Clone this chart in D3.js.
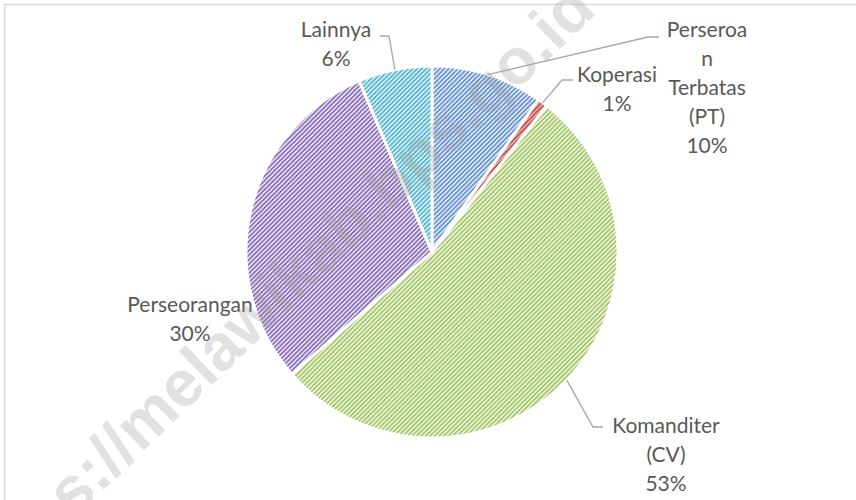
<!DOCTYPE html>
<html>
<head>
<meta charset="utf-8">
<script src="https://cdn.jsdelivr.net/npm/d3@7"></script>
<style>
  body { margin: 0; background: #fff; }
  svg { display: block; }
</style>
</head>
<body>
<div id="pie_dataviz"></div>
<script>
// data (percent share, clockwise from 12 o'clock)
var categories = ["Perseroan Terbatas (PT)", "Koperasi", "Komanditer (CV)", "Perseorangan", "Lainnya"];
var shares = [9.7, 0.9, 53.0, 30.0, 6.4];
// how each label is broken into lines
var labelLines = [
  ["Perseroa", "n", "Terbatas", "(PT)"],
  ["Koperasi"],
  ["Komanditer", "(CV)"],
  ["Perseorangan"],
  ["Lainnya"]
];

// colours: stripe colour and background tint per slice
var stripeColors = ["#5f8fcf", "#c0504d", "#a0c55f", "#876bb5", "#4fb3cc"];
var tintColors   = ["#dbe5f3", "#e9a9a7", "#ebf2dd", "#e2dbee", "#d5edf3"];

// label layout (x centre, first baseline, leader elbow and leader end)
var labelLayout = [
  {x: 707, y: 37,  elbow: [648, 37],  end: [659, 37]},
  {x: 617, y: 82,  elbow: [562, 80],  end: [573, 80]},
  {x: 666, y: 433, elbow: [593, 427], end: [603, 427]},
  {x: 190, y: 312, elbow: null,       end: null},
  {x: 336, y: 37,  elbow: [389, 36],  end: [380, 36]}
];

var width = 856, height = 500,
    cx = 432, cy = 252, radius = 186,
    lineStep = 29;

var svg = d3.select("#pie_dataviz")
  .append("svg")
    .attr("width", width)
    .attr("height", height);

// striped fills
var defs = svg.append("defs");
stripeColors.forEach(function(c, i) {
  var p = defs.append("pattern")
      .attr("id", "stripe" + i)
      .attr("patternUnits", "userSpaceOnUse")
      .attr("width", 3.2)
      .attr("height", 3.2)
      .attr("patternTransform", "rotate(-45)");
  p.append("rect")
      .attr("width", 3.2).attr("height", 3.2)
      .attr("fill", tintColors[i]);
  p.append("rect")
      .attr("width", 3.2).attr("height", 1.5)
      .attr("fill", c);
});

// chart frame
svg.append("rect")
    .attr("x", 4.5).attr("y", 4.5)
    .attr("width", 900).attr("height", 600)
    .attr("fill", "none")
    .attr("stroke", "#d9d9d9")
    .attr("stroke-width", 1.5);

var pie = d3.pie().sort(null).value(function(d) { return d; });
var arcs = pie(shares);
var arc = d3.arc().innerRadius(0).outerRadius(radius);

var g = svg.append("g")
    .attr("transform", "translate(" + cx + "," + cy + ")");

g.selectAll("path.slice")
  .data(arcs)
  .enter()
  .append("path")
    .attr("class", "slice")
    .attr("d", arc)
    .attr("fill", function(d, i) { return "url(#stripe" + i + ")"; })
    .attr("stroke", "#fff")
    .attr("stroke-width", 3)
    .attr("stroke-linejoin", "round");

// leader lines, from the arc edge at mid-angle to the label
arcs.forEach(function(d, i) {
  var lay = labelLayout[i];
  if (!lay.elbow) return;
  var a = (d.startAngle + d.endAngle) / 2;
  var start = [cx + radius * Math.sin(a), cy - radius * Math.cos(a)];
  svg.append("path")
      .attr("d", d3.line()([start, lay.elbow, lay.end]))
      .attr("fill", "none")
      .attr("stroke", "#a6a6a6")
      .attr("stroke-width", 1.3);
});

// labels
arcs.forEach(function(d, i) {
  var lay = labelLayout[i];
  var lines = labelLines[i].concat([Math.round(shares[i]) + "%"]);
  var t = svg.append("text")
      .attr("text-anchor", "middle")
      .attr("font-family", "Lato, 'Open Sans', sans-serif")
      .attr("font-size", 21)
      .attr("fill", "#595959");
  lines.forEach(function(s, k) {
    t.append("tspan")
        .attr("x", lay.x)
        .attr("y", lay.y + k * lineStep)
        .text(s);
  });
});

// watermark
svg.append("text")
    .attr("transform", "translate(598,12) rotate(-44)")
    .attr("text-anchor", "end")
    .attr("font-family", "'Liberation Sans', Arial, sans-serif")
    .attr("font-weight", "bold")
    .attr("font-size", 65)
    .attr("fill", "#9a9a9a")
    .attr("fill-opacity", 0.3)
    .text("https://melawikab.bps.go.id");
</script>
</body>
</html>
